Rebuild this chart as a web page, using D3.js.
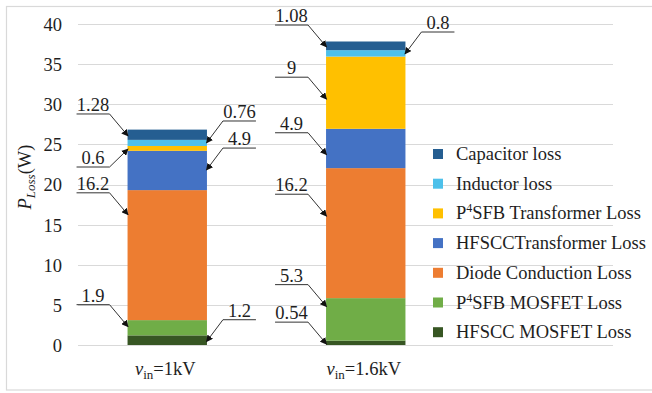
<!DOCTYPE html>
<html>
<head>
<meta charset="utf-8">
<script src="https://cdn.jsdelivr.net/npm/d3@7"></script>
<style>
  html, body { margin: 0; padding: 0; background: #fff; }
  svg { display: block; }
  text { font-family: "Liberation Serif", "Times New Roman", serif; fill: #1e1e1e; }
</style>
</head>
<body>
<svg id="chart" width="652" height="393"></svg>
<script>
// Input voltage categories
const categories = ["1kV", "1.6kV"];

// Loss components, listed from the bottom of each stack upward (W)
const hfsccMosfetLoss   = [1.2, 0.54];
const p4sfbMosfetLoss   = [1.9, 5.3];
const diodeLoss         = [16.2, 16.2];
const hfsccTransLoss    = [4.9, 4.9];
const p4sfbTransLoss    = [0.6, 9];
const inductorLoss      = [0.76, 0.8];
const capacitorLoss     = [1.28, 1.08];

const seriesNames = [
  "HFSCC MOSFET Loss",
  "P4SFB MOSFET Loss",
  "Diode Conduction Loss",
  "HFSCCTransformer Loss",
  "P4SFB Transformer Loss",
  "Inductor loss",
  "Capacitor loss"
];
const seriesValues = [hfsccMosfetLoss, p4sfbMosfetLoss, diodeLoss, hfsccTransLoss,
                      p4sfbTransLoss, inductorLoss, capacitorLoss];
const seriesColors = ["#375623", "#70AD47", "#ED7D31", "#4472C4", "#FFC000", "#4DC0EA", "#255E91"];

const yTicks = [0, 5, 10, 15, 20, 25, 30, 35, 40];

// Callout placement for each segment: side of the bar, where the arrow hits
// within the segment (fraction of its height), and label offset direction.
const calloutSide = [
  ["R", "L", "L", "R", "L", "R", "L"],
  ["L", "L", "L", "L", "L", "R", "L"]
];
const calloutFrac = [
  [0.34, 0.57, 0.81, 0.51, 0.37, 0.49, 0.38],
  [0.20, 0.80, 0.63, 0.34, 0.41, 0.40, 0.36]
];
const calloutBelow = [
  [false, false, false, false, true, false, false],
  [false, false, false, false, false, false, false]
];

const svg = d3.select("#chart");
const FONT = 18.5;

// Table of stacked rows
const rows = categories.map((c, i) => {
  const r = { cat: c };
  seriesNames.forEach((s, j) => { r[s] = seriesValues[j][i]; });
  return r;
});
const stack = d3.stack().keys(seriesNames)(rows);

// Scales
const x = d3.scaleBand().domain(categories).range([68, 465]).paddingInner(0.6).paddingOuter(0.3);
const y = d3.scaleLinear().domain([0, 40]).range([345, 24]);

// Outer frame
svg.append("rect")
  .attr("x", 6.5).attr("y", 6.5).attr("width", 700).attr("height", 383.5)
  .attr("fill", "none").attr("stroke", "#d9d9d9").attr("stroke-width", 1.2);

// Gridlines
svg.append("g").selectAll("line").data(yTicks).join("line")
  .attr("x1", 78).attr("x2", 613)
  .attr("y1", d => Math.round(y(d)) + 0.5).attr("y2", d => Math.round(y(d)) + 0.5)
  .attr("stroke", "#d9d9d9").attr("stroke-width", 1.2);

// Y axis tick labels
const yAxis = d3.axisLeft(y).tickValues(yTicks).tickSize(0).tickPadding(0);
const yg = svg.append("g").attr("transform", "translate(62,0)").call(yAxis);
yg.select(".domain").remove();
yg.selectAll("text")
  .attr("font-family", "Liberation Serif, serif").attr("font-size", FONT)
  .attr("fill", "#1e1e1e").attr("dy", "0.35em");

// Y axis title
const yt = svg.append("text")
  .attr("transform", "translate(31,177) rotate(-90)")
  .attr("text-anchor", "middle").attr("font-size", FONT);
yt.append("tspan").attr("font-style", "italic").text("P");
yt.append("tspan").attr("font-style", "italic").attr("font-size", 13).attr("dy", 4).text("Loss");
yt.append("tspan").attr("dy", -4).text("(W)");

// Bars
svg.append("g").selectAll("g").data(stack).join("g")
  .attr("fill", (d, j) => seriesColors[j])
  .selectAll("rect").data(d => d).join("rect")
  .attr("x", d => x(d.data.cat))
  .attr("width", x.bandwidth())
  .attr("y", d => y(d[1]))
  .attr("height", d => y(d[0]) - y(d[1]));

// X category labels
categories.forEach(c => {
  const t = svg.append("text")
    .attr("x", x(c) + x.bandwidth() / 2 - 2).attr("y", 375)
    .attr("text-anchor", "middle").attr("font-size", FONT);
  t.append("tspan").attr("font-style", "italic").text("v");
  t.append("tspan").attr("font-size", 13).attr("dy", 4).text("in");
  t.append("tspan").attr("dy", -4).text("=" + c);
});

// Arrow marker
svg.append("defs").append("marker")
  .attr("id", "arrow").attr("viewBox", "0 0 10 10")
  .attr("refX", 9).attr("refY", 5)
  .attr("markerWidth", 7).attr("markerHeight", 7)
  .attr("markerUnits", "userSpaceOnUse")
  .attr("orient", "auto")
  .append("path").attr("d", "M0,0 L10,5 L0,10 z").attr("fill", "#111");

// Callouts: underlined value label with a leader arrow into the segment
const callouts = svg.append("g");
const underlineLen = 33;
stack.forEach((layer, j) => {
  layer.forEach((seg, i) => {
    const side = calloutSide[i][j];
    const val = seriesValues[j][i];
    const tipY = y(seg[0] + calloutFrac[i][j] * (seg[1] - seg[0]));
    const left = x(seg.data.cat), right = left + x.bandwidth();
    const tipX = side === "L" ? left + 0.5 : right - 0.5;
    const elbowX = side === "L" ? left - 18 : right + 16;
    const elbowY = calloutBelow[i][j] ? tipY + 18 : tipY - 22;
    const endX = side === "L" ? elbowX - underlineLen : elbowX + underlineLen;
    callouts.append("path")
      .attr("d", `M${endX},${elbowY}L${elbowX},${elbowY}L${tipX},${tipY}`)
      .attr("fill", "none").attr("stroke", "#333").attr("stroke-width", 1)
      .attr("marker-end", "url(#arrow)");
    callouts.append("text")
      .attr("x", (endX + elbowX) / 2).attr("y", elbowY - 3)
      .attr("text-anchor", "middle").attr("font-size", FONT)
      .text(String(val));
  });
});

// Legend (top of stack first)
const legend = svg.append("g");
const legendOrder = d3.range(seriesNames.length).reverse();
legendOrder.forEach((j, k) => {
  const cy = 154 + k * 29.7;
  legend.append("rect")
    .attr("x", 433).attr("y", cy - 5).attr("width", 10).attr("height", 10)
    .attr("fill", seriesColors[j]);
  const t = legend.append("text")
    .attr("x", 456).attr("y", cy + 6).attr("font-size", FONT);
  const name = seriesNames[j];
  if (name.startsWith("P4")) {
    t.append("tspan").text("P");
    t.append("tspan").attr("font-size", 12).attr("dy", -7).text("4");
    t.append("tspan").attr("dy", 7).text(name.slice(2));
  } else {
    t.text(name);
  }
});
</script>
</body>
</html>
